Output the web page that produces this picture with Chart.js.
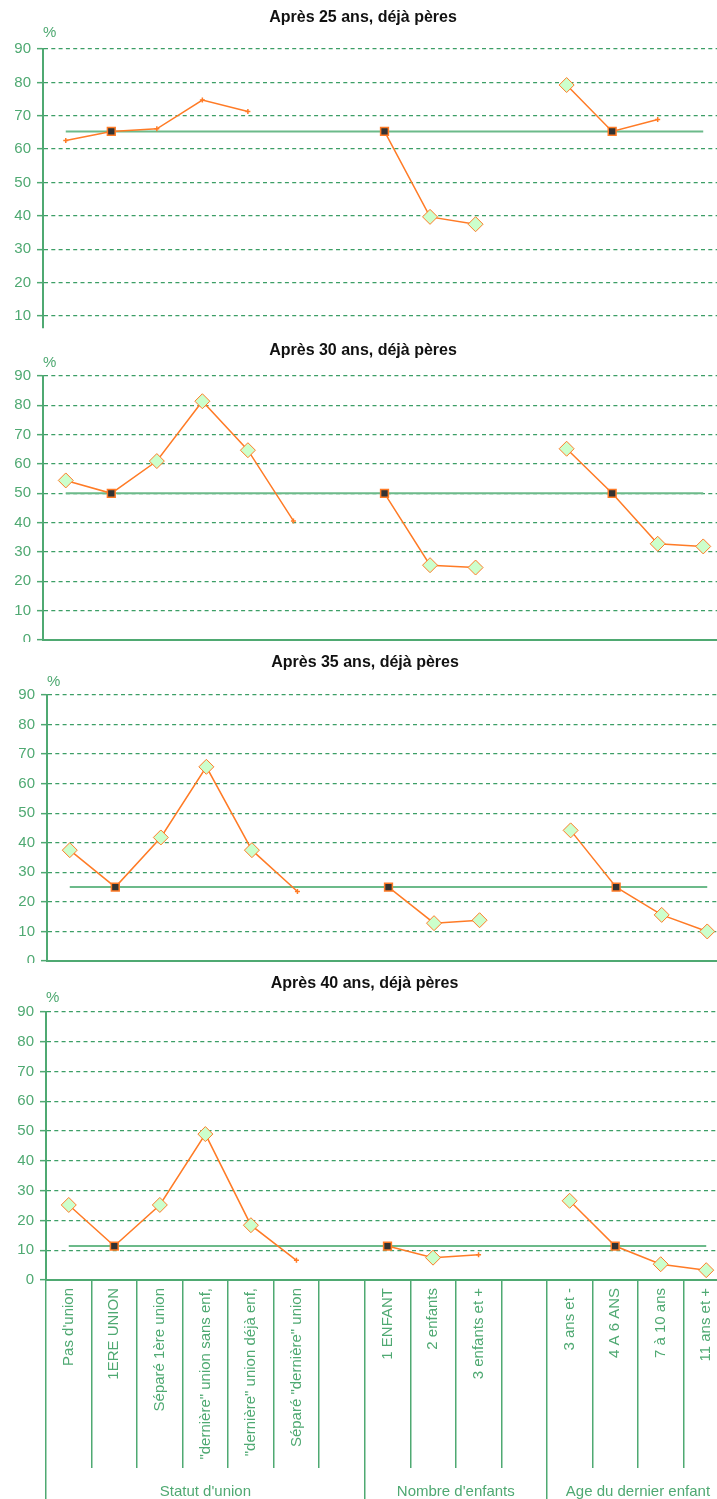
<!DOCTYPE html>
<html>
<head>
<meta charset="utf-8">
<script src="https://cdn.jsdelivr.net/npm/chart.js@4/dist/chart.umd.min.js"></script>
<style>
  body { margin: 0; background: #ffffff; width: 717px; height: 1499px; overflow: hidden; position: relative; }
  .panel { position: absolute; left: 0; width: 717px; overflow: hidden; }
  canvas { display: block; }
</style>
</head>
<body>
<div class="panel" style="top:0px;height:330px"><canvas id="c1" width="745" height="340"></canvas></div>
<div class="panel" style="top:330px;height:312px"><canvas id="c2" width="745" height="322"></canvas></div>
<div class="panel" style="top:650px;height:313px"><canvas id="c3" width="745" height="323"></canvas></div>
<div class="panel" style="top:970px;height:529px"><canvas id="c4" width="745" height="529"></canvas></div>
<script>
// categories on the x axis (empty ones separate the groups)
const categories = ["Pas d'union", '1ERE UNION', 'Séparé 1ère union', '"dernière" union sans enf,',
    '"dernière" union déjà enf,', 'Séparé "dernière" union', '', '1 ENFANT', '2 enfants', '3 enfants et +', '',
    '3 ans et -', '4 A 6 ANS', '7 à 10 ans', '11 ans et +'];
const groupNames = ["Statut d'union", "Nombre d'enfants", 'Age du dernier enfant'];
const groupEdges = [-0.5, 6.5, 10.5, 14.5];
const yTicks = [0, 10, 20, 30, 40, 50, 60, 70, 80, 90];

const titles = ['Après 25 ans, déjà pères', 'Après 30 ans, déjà pères', 'Après 35 ans, déjà pères', 'Après 40 ans, déjà pères'];

// % per category; refs = value of the reference categories (black squares)
const apres25 = [62.6, 65.3, 66.1, 74.7, 71.3, null, null, 65.3, 39.7, 37.5, null, 79.2, 65.3, 68.9, null];
const apres30 = [54.4, 50, 61.0, 81.4, 64.7, 40.6, null, 50, 25.5, 24.7, null, 65.2, 50, 32.8, 31.9];
const apres35 = [37.5, 25, 41.8, 65.7, 37.5, 23.5, null, 25, 12.8, 13.8, null, 44.2, 25, 15.6, 10.0];
const apres40 = [25.2, 11.4, 25.2, 49.0, 18.4, 6.6, null, 11.4, 7.5, 8.5, null, 26.6, 11.4, 5.3, 3.3];
const refs = [65.3, 50, 25, 11.4];

// 'ref' = reference category, 'sig' = significant gap, 'ns' = not significant
const marks25 = ['ns', 'ref', 'ns', 'ns', 'ns', null, null, 'ref', 'sig', 'sig', null, 'sig', 'ref', 'ns', null];
const marks30 = ['sig', 'ref', 'sig', 'sig', 'sig', 'ns', null, 'ref', 'sig', 'sig', null, 'sig', 'ref', 'sig', 'sig'];
const marks35 = ['sig', 'ref', 'sig', 'sig', 'sig', 'ns', null, 'ref', 'sig', 'sig', null, 'sig', 'ref', 'sig', 'sig'];
const marks40 = ['sig', 'ref', 'sig', 'sig', 'sig', 'ns', null, 'ref', 'sig', 'ns', null, 'sig', 'ref', 'sig', 'sig'];

const series = [apres25, apres30, apres35, apres40];
const marks = [marks25, marks30, marks35, marks40];

const green = '#4fa972';
const dashGreen = '#3c9e66';
const refGreen = '#6cba8a';
const orange = '#ff7b26';
const fontFamily = "'Liberation Sans', Arial, sans-serif";

// panel geometry (pixels)
const layouts = [
    { id: 'c1', left: 43, titleTop: 10, subTop: -0.5, subBottom: 8.5, yMin: 6.4, bottom: 12, xLine: false },
    { id: 'c2', left: 43, titleTop: 13, subTop: -3.5, subBottom: 5.5, yMin: 0, bottom: 12, xLine: true },
    { id: 'c3', left: 47, titleTop: 5, subTop: 3.5, subBottom: 5.5, yMin: 0, bottom: 12, xLine: true },
    { id: 'c4', left: 46, titleTop: 6, subTop: -1.5, subBottom: 6.5, yMin: 0, bottom: 0, xLine: true, labels: true }
];

const groupCenters = groupNames.map((g, i) => (groupEdges[i] + groupEdges[i + 1]) / 2);

function styleFor(m, a, b, c) {
    return m === 'ref' ? a : (m === 'sig' ? b : c);
}

function makeChart(p, k) {
    const ctx = document.getElementById(p.id).getContext('2d');
    const mk = marks[k];

    const scales = {
        x: {
            type: 'category',
            offset: true,
            grid: { display: false, drawOnChartArea: false, drawTicks: false },
            border: { display: p.xLine, color: green, width: 2 },
            ticks: { display: false }
        }
    };

    if (p.labels) {
        scales.x = {
            type: 'category',
            offset: true,
            grid: { offset: true, drawOnChartArea: false, tickLength: 188, color: green, lineWidth: 1.5 },
            border: { display: true, color: green, width: 2 },
            ticks: { autoSkip: false, minRotation: 90, maxRotation: 90, padding: -180, color: green,
                     font: { family: fontFamily, size: 15 } },
            afterFit: s => { s.height = 188; }
        };
        scales.x2 = {
            type: 'linear',
            position: 'bottom',
            min: -0.5, max: 14.5,
            afterBuildTicks: s => {
                s.ticks = groupEdges.concat(groupCenters).sort((a, b) => a - b).map(v => ({ value: v }));
            },
            grid: { drawOnChartArea: false, tickLength: 31, lineWidth: 1.5,
                    color: c => (c.tick && groupEdges.includes(c.tick.value)) ? green : 'rgba(0,0,0,0)' },
            border: { display: false },
            ticks: { autoSkip: false, maxRotation: 0, padding: -16, color: green,
                     font: { family: fontFamily, size: 15 },
                     callback: v => { const i = groupCenters.indexOf(v); return i >= 0 ? groupNames[i] : ''; } },
            afterFit: s => { s.height = 31; }
        };
    }

    scales.y = {
        min: p.yMin, max: 90,
        afterBuildTicks: s => { s.ticks = yTicks.filter(v => v >= s.min).map(v => ({ value: v })); },
        grid: { color: dashGreen, lineWidth: 1.3, tickLength: 6, tickBorderDash: [], tickColor: green, tickWidth: 1.5 },
        border: { display: true, color: green, width: 2, dash: [4, 3.3] },
        ticks: { color: green, padding: 6, font: { family: fontFamily, size: 15 } },
        afterFit: s => { s.width = p.left; s.paddingBottom = 0; }
    };

    return new Chart(ctx, {
        type: 'line',
        data: {
            labels: categories,
            datasets: [
                {
                    label: titles[k],
                    data: series[k],
                    borderColor: orange,
                    borderWidth: 1.5,
                    spanGaps: false,
                    tension: 0,
                    pointStyle: mk.map(m => styleFor(m, 'rect', 'rectRot', 'cross')),
                    pointRadius: mk.map(m => styleFor(m, 5.5, 7.5, 2.5)),
                    pointBackgroundColor: mk.map(m => styleFor(m, '#333333', '#ccffcc', orange)),
                    pointBorderColor: orange,
                    pointBorderWidth: mk.map(m => styleFor(m, 1.5, 1, 1.5)),
                    order: 1
                },
                {
                    label: 'Référence',
                    data: categories.map(() => refs[k]),
                    borderColor: refGreen,
                    borderWidth: 2,
                    pointRadius: 0,
                    order: 2
                }
            ]
        },
        options: {
            responsive: false,
            animation: false,
            layout: { padding: { left: 0, right: 745 - p.left - 683, top: 0, bottom: p.bottom } },
            plugins: {
                legend: { display: false },
                tooltip: { enabled: false },
                title: {
                    display: true,
                    text: titles[k],
                    color: '#111111',
                    font: { family: fontFamily, size: 16, weight: 'bold', lineHeight: 1 },
                    padding: { top: p.titleTop, bottom: 0 }
                },
                subtitle: {
                    display: true,
                    text: '%',
                    align: 'start',
                    fullSize: false,
                    color: green,
                    font: { family: fontFamily, size: 15, lineHeight: 1 },
                    padding: { top: p.subTop, bottom: p.subBottom }
                }
            },
            scales: scales
        }
    });
}

layouts.forEach((p, k) => makeChart(p, k));
</script>
</body>
</html>
